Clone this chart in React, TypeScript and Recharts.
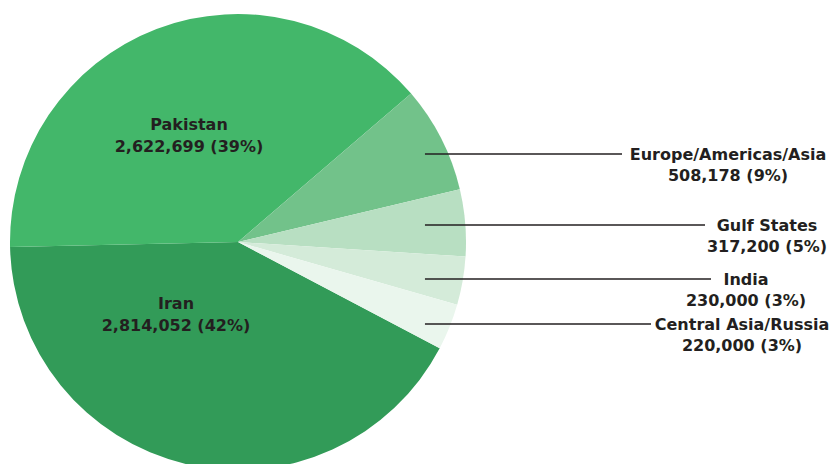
import { PieChart, Pie, Cell } from 'recharts';

const regions = ['Iran', 'Pakistan', 'Europe/Americas/Asia', 'Gulf States', 'India', 'Central Asia/Russia'];
const refugees = [2814052, 2622699, 508178, 317200, 230000, 220000];
const shareLabels = ['42%', '39%', '9%', '5%', '3%', '3%'];
const colors = ['#329b58', '#43b76a', '#72c28a', '#b8dfc2', '#d4ebd9', '#eaf6ed'];

const data = regions.map((name, i) => ({ name, value: refugees[i], share: shareLabels[i] }));

const CX = 238;
const CY = 242;
const R = 228;
const FONT = '"DejaVu Sans", sans-serif';
const INK = '#231f20';

// hand placed label layout, offsets from pie centre
const inside: Record<number, { dx: number; dy: number }> = {
  0: { dx: -62, dy: 61 },
  1: { dx: -49, dy: -118 },
};
const outside: Record<number, { lineY: number; lineEnd: number; textX: number }> = {
  2: { lineY: -88, lineEnd: 622, textX: 728 },
  3: { lineY: -17, lineEnd: 705, textX: 767 },
  4: { lineY: 37, lineEnd: 711, textX: 746 },
  5: { lineY: 82, lineEnd: 651, textX: 742 },
};

const fmt = (v: number) => v.toLocaleString('en-US');

function Label({ x, y, gap, title, sub }: { x: number; y: number; gap: number; title: string; sub: string }) {
  const common = {
    textAnchor: 'middle' as const,
    dominantBaseline: 'central' as const,
    fill: INK,
    fontFamily: FONT,
    fontWeight: 700,
    fontSize: 16,
  };
  return (
    <>
      <text x={x} y={y} {...common}>{title}</text>
      <text x={x} y={y + gap} {...common}>{sub}</text>
    </>
  );
}

function renderLabel(props: any) {
  const { cx, cy, index, outerRadius } = props;
  const d = data[index];
  const sub = `${fmt(d.value)} (${d.share})`;
  if (inside[index]) {
    const p = inside[index];
    return (
      <g key={`l${index}`}>
        <Label x={cx + p.dx} y={cy + p.dy} gap={22} title={d.name} sub={sub} />
      </g>
    );
  }
  const o = outside[index];
  const y = cy + o.lineY;
  const x0 = cx + outerRadius * 0.82;
  return (
    <g key={`l${index}`}>
      <line x1={x0} y1={y} x2={o.lineEnd} y2={y} stroke={INK} strokeWidth={1.3} />
      <Label x={o.textX} y={y} gap={21} title={d.name} sub={sub} />
    </g>
  );
}

export default function App() {
  return (
    <div style={{ position: 'absolute', left: 0, top: 0, width: 830, height: 464, background: '#fff' }}>
      <PieChart width={830} height={464} margin={{ top: 0, right: 0, bottom: 0, left: 0 }}>
        <Pie
          data={data}
          dataKey="value"
          nameKey="name"
          cx={CX}
          cy={CY}
          outerRadius={R}
          startAngle={-27.8}
          endAngle={-387.8}
          stroke="none"
          label={renderLabel}
          labelLine={false}
          isAnimationActive={false}
        >
          {data.map((d, i) => (
            <Cell key={d.name} fill={colors[i]} />
          ))}
        </Pie>
      </PieChart>
    </div>
  );
}
